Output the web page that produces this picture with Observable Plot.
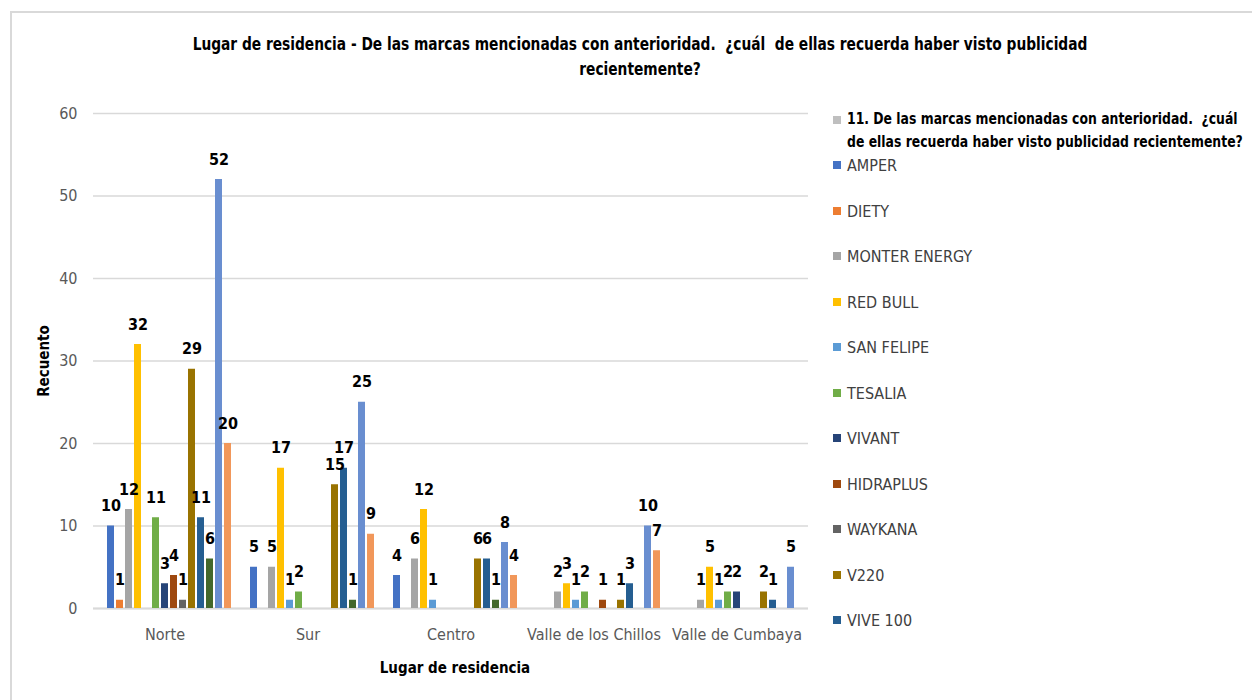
<!DOCTYPE html>
<html>
<head>
<meta charset="utf-8">
<script src="https://cdn.jsdelivr.net/npm/d3@7"></script>
<script src="https://cdn.jsdelivr.net/npm/@observablehq/plot@0.6"></script>
<style>
  html, body { margin: 0; padding: 0; background: #fff; }
  #wrap { position: relative; width: 1252px; height: 700px; overflow: hidden; background: #fff;
          font-family: "Liberation Sans Narrow", "DejaVu Sans Condensed", sans-serif; }
  #border { position: absolute; left: 10px; top: 11px; width: 1300px; height: 760px; border: 2px solid #d9d9d9; box-sizing: border-box; }
  #title { position: absolute; left: 140px; width: 1000px; top: 32px; text-align: center; font-weight: bold; font-size: 17px; line-height: 25px; color: #000; transform: scaleX(0.9); transform-origin: 500px 0; white-space: nowrap; }
  #chart { position: absolute; left: 0; top: 0; }
  #ylab { position: absolute; left: 44px; top: 361px; transform: translate(-50%, -50%) rotate(-90deg); font-weight: bold; font-size: 15px; color: #000; white-space: nowrap; }
  #xlab { position: absolute; left: 455px; top: 668px; transform: translate(-50%, -50%); font-weight: bold; font-size: 15px; color: #000; white-space: nowrap; }
  #legend { position: absolute; left: 833px; top: 0; width: 415px; }
  .li { position: absolute; left: 0; font-size: 16px; color: #404040; white-space: nowrap; }
  .sw { position: absolute; left: 0; width: 8px; height: 8px; }
  .lt { position: absolute; left: 14px; transform: translateY(-50%); }
  .hd { position: absolute; left: 14px; top: 0; font-weight: bold; color: #000; line-height: 23px; white-space: nowrap; font-size: 15px; transform: scaleX(0.92); transform-origin: 0 0; }
</style>
</head>
<body>
<div id="wrap">
  <div id="border"></div>
  <div id="title">Lugar de residencia - De las marcas mencionadas con anterioridad.&nbsp;&nbsp;¿cuál&nbsp; de ellas recuerda haber visto publicidad<br>recientemente?</div>
  <div id="chart"></div>
  <div id="ylab">Recuento</div>
  <div id="xlab">Lugar de residencia</div>
  <div id="legend"></div>
</div>
<script>
// ---- Data ----
const groups = ["Norte", "Sur", "Centro", "Valle de los Chillos", "Valle de Cumbaya"];
const headerSeries = "11. De las marcas mencionadas con anterioridad.  ¿cuál de ellas recuerda haber visto publicidad recientemente?";
const headerLines = ["11. De las marcas mencionadas con anterioridad.  ¿cuál", "de ellas recuerda haber visto publicidad recientemente?"];
const series = ["AMPER", "DIETY", "MONTER ENERGY", "RED BULL", "SAN FELIPE", "TESALIA", "VIVANT",
                "HIDRAPLUS", "WAYKANA", "V220", "VIVE 100", "Serie 12", "Serie 13", "Serie 14"];
const legendSeries = ["AMPER", "DIETY", "MONTER ENERGY", "RED BULL", "SAN FELIPE", "TESALIA", "VIVANT",
                      "HIDRAPLUS", "WAYKANA", "V220", "VIVE 100"];
const colors = ["#4472C4", "#ED7D31", "#A5A5A5", "#FFC000", "#5B9BD5", "#70AD47", "#264478",
                "#9E480E", "#636363", "#997300", "#255E91", "#43682B", "#698ED0", "#F1975A"];
const headerColor = "#BFBFBF";

const norte    = [10, 1, 12, 32, 0, 11, 3, 4, 1, 29, 11, 6, 52, 20];
const sur      = [5, 0, 5, 17, 1, 2, 0, 0, 0, 15, 17, 1, 25, 9];
const centro   = [4, 0, 6, 12, 1, 0, 0, 0, 0, 6, 6, 1, 8, 4];
const chillos  = [0, 0, 2, 3, 1, 2, 0, 1, 0, 1, 3, 0, 10, 7];
const cumbaya  = [0, 0, 1, 5, 1, 2, 2, 0, 0, 2, 1, 0, 5, 0];
const yTicks = [0, 10, 20, 30, 40, 50, 60];

// ---- Table ----
const valuesByGroup = [norte, sur, centro, chillos, cumbaya];
const data = [];
groups.forEach((g, gi) => series.forEach((s, si) => data.push({group: g, series: s, value: valuesByGroup[gi][si]})));
const shown = data.filter(d => d.value > 0);

const font = '"Liberation Sans Narrow", "DejaVu Sans Condensed", sans-serif';

const chart = Plot.plot({
  width: 830,
  height: 700,
  marginLeft: 93,
  marginRight: 22,
  marginTop: 113,
  marginBottom: 92,
  style: {fontFamily: font, fontSize: "16px", color: "#595959", background: "transparent"},
  fx: {domain: groups, padding: 0, label: null},
  x: {domain: [headerSeries, ...series], paddingInner: 0.24, paddingOuter: 0.39, axis: null},
  y: {domain: [0, 60], label: null},
  color: {domain: series, range: colors},
  marks: [
    Plot.gridY(yTicks, {stroke: "#d9d9d9", strokeOpacity: 1, strokeWidth: 1.5}),
    Plot.axisY(yTicks, {tickSize: 0, tickPadding: 16, label: null, fill: "#595959"}),
    Plot.axisFx({anchor: "bottom", tickSize: 0, tickPadding: 20, label: null, fill: "#595959"}),
    Plot.ruleY([0], {stroke: "#d9d9d9", strokeWidth: 2}),
    Plot.barY(data, {fx: "group", x: "series", y: "value", fill: "series"}),
    Plot.text(shown, {fx: "group", x: "series", y: "value", text: d => String(d.value), dy: -20,
                      fontWeight: "bold", fontSize: 16, fill: "#000"})
  ]
});
document.getElementById("chart").appendChild(chart);

// ---- Legend ----
const legend = document.getElementById("legend");
const head = document.createElement("div");
head.className = "li";
head.style.top = "108px";
head.innerHTML = `<div class="sw" style="top:8px;background:${headerColor}"></div>` +
  `<div class="hd">${headerLines.map(l => l.replace("  ", "&nbsp; ")).join("<br>")}</div>`;
legend.appendChild(head);
legendSeries.forEach((s, i) => {
  const y = 165 + i * 45.5;
  const item = document.createElement("div");
  item.className = "li";
  item.style.top = y + "px";
  item.innerHTML = `<div class="sw" style="top:-4px;background:${colors[series.indexOf(s)]}"></div><div class="lt">${s}</div>`;
  legend.appendChild(item);
});
</script>
</body>
</html>
